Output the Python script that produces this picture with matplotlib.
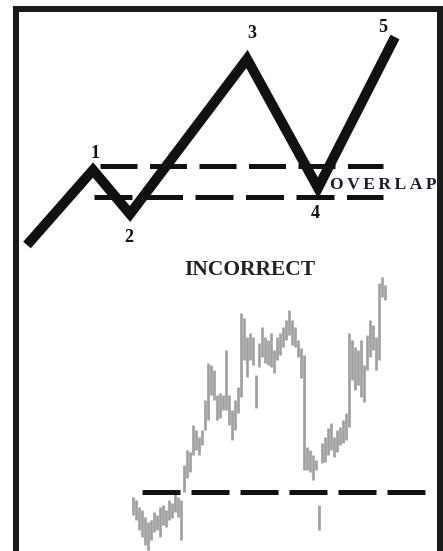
import matplotlib
matplotlib.use("Agg")
import matplotlib.pyplot as plt
from matplotlib.patches import Rectangle

plt.rcParams['lines.scale_dashes'] = False

# ---- data (time units along x, price units along y) ----
# Elliott wave skeleton
wave_t = [27, 93, 130, 247, 318, 395]
wave_p = [306, 381, 337, 492, 363, 514]
wave_labels = ["1", "2", "3", "4", "5"]
label_t = [95, 129, 252, 315, 383]
label_p = [398, 313, 518, 338, 524]

# overlap levels (wave 1 high / wave 4 low)
overlap_hi = 385
overlap_lo = 354
overlap_span = (94, 383)

# price bars (high / low)
bar_t0 = 133
bar_step = 3
bar_high_px = [497, 500, 507, 510, 517, 522, 520, 512, 515, 507, 505, 510, 500, 503, 493, 497, 500,
               465, 450, 452, 425, 430, 437, 430, 400, 363, 365, 370, 395, 393, 395, 350, 395, 410,
               400, 387, 313, 318, 337, 333, 337, 375, 343, 327, 337, 340, 333, 350, 337, 333, 327,
               320, 310, 320, 327, 340, 348, 355, 447, 450, 455, 460, 505, 443, 437, 428, 423, 437,
               430, 427, 420, 413, 333, 340, 347, 350, 340, 365, 335, 320, 325, 337, 283, 277, 285]
bar_low_px = [515, 520, 530, 537, 545, 550, 540, 532, 530, 537, 525, 527, 520, 518, 512, 517, 540,
              492, 478, 472, 455, 450, 455, 445, 430, 420, 395, 400, 420, 418, 410, 410, 425, 440,
              430, 413, 397, 360, 377, 360, 365, 408, 367, 357, 363, 365, 367, 373, 360, 355, 347,
              340, 335, 345, 347, 357, 378, 470, 470, 472, 480, 470, 530, 463, 462, 455, 450, 457,
              452, 445, 443, 440, 427, 380, 390, 385, 397, 402, 370, 357, 350, 370, 360, 297, 300]
bar_high = [551 - v for v in bar_high_px]
bar_low = [551 - v for v in bar_low_px]
bar_t = [bar_t0 + bar_step * i for i in range(len(bar_high))]

# support level on the price chart
support_level = 59
support_span = (142, 425)

# ---- figure ----
fig = plt.figure(figsize=(4.43, 5.51), dpi=100)
ax = fig.add_axes([0, 0, 1, 1])
ax.set_xlim(0, 443)
ax.set_ylim(0, 551)
ax.axis("off")

px = 72 / 100.0  # points per pixel

# frame
ax.add_patch(Rectangle((16, -2), 424.5, 544, fill=False, edgecolor="#1a1a1a",
                       linewidth=6 * px, clip_on=False))

# dashed overlap lines
dash = (37 * px, 12.5 * px)
ax.plot([overlap_span[0] + 6, overlap_span[1]], [overlap_hi, overlap_hi], color="#111111",
        linewidth=5 * px, dashes=dash, dash_capstyle="butt")
ax.plot([overlap_span[0], overlap_span[1]], [overlap_lo, overlap_lo], color="#111111",
        linewidth=5 * px, dashes=(38 * px, 12.5 * px), dash_capstyle="butt")

# wave line
ax.plot(wave_t, wave_p, color="#111111", linewidth=10 * px, solid_capstyle="butt",
        solid_joinstyle="miter")

for lab, t, p in zip(wave_labels, label_t, label_p):
    ax.text(t, p, lab, ha="center", va="center", fontsize=13, fontweight="bold",
            family=["Liberation Serif", "DejaVu Serif"], color="#111111")

ax.text(437, 366, "O\u2009V\u2009E\u2009R\u2009L\u2009A\u2009P", ha="right", va="center",
        fontsize=12.6, fontweight="bold", family=["Liberation Serif", "DejaVu Serif"],
        color="#1c1c30")

ax.text(250, 281, "INCORRECT", ha="center", va="center", fontsize=15.5,
        fontweight="bold", family=["Liberation Serif", "DejaVu Serif"], color="#222222")

# price bars
ax.vlines(bar_t, bar_low, bar_high, color="#a0a0a0", linewidth=2.7 * px)

# support dashed line
ax.plot([support_span[0], support_span[1]], [support_level, support_level], color="#111111",
        linewidth=5 * px, dashes=(38 * px, 11 * px), dash_capstyle="butt")

fig.savefig("out.png", dpi=100, facecolor="white")
